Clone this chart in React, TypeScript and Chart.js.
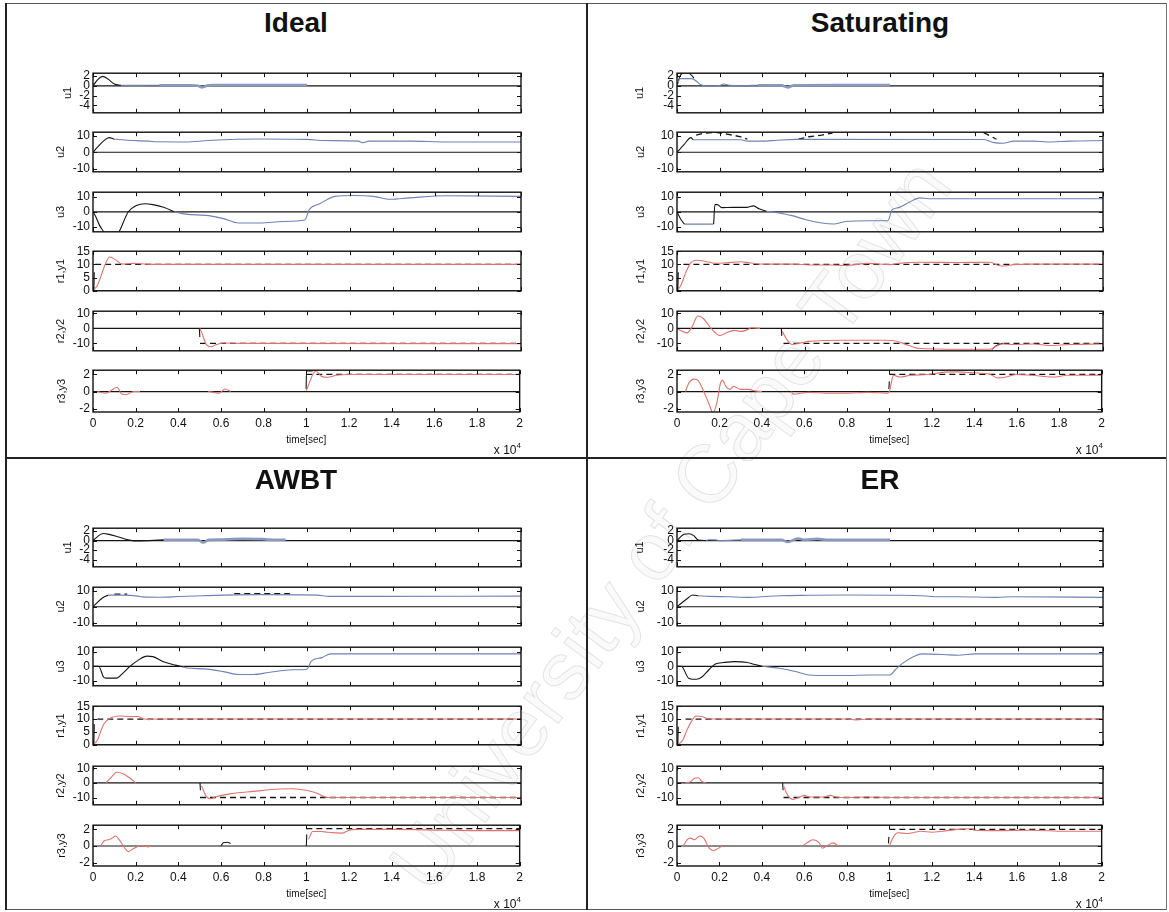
import React, { useEffect, useRef } from "react";
import { Chart, registerables } from "chart.js";

Chart.register(...registerables);

const FONT = '"Liberation Sans", Arial, Helvetica, sans-serif';
Chart.defaults.font.family = FONT;
Chart.defaults.color = "#111";

type Pt = [number, number | null];
type Kind = "k" | "b" | "band" | "r" | "ref";
type Trace = { data: Pt[]; kind: Kind };

// time axis, in units of 10^4 s
const TIME_TICKS = [0, 0.2, 0.4, 0.6, 0.8, 1, 1.2, 1.4, 1.6, 1.8, 2];
const ZERO_LINE: Pt[] = [[0, 0], [2, 0]];

const ROW_LABELS = ["u1", "u2", "u3", "r1,y1", "r2,y2", "r3,y3"];
const U1_TICKS = [-4, -2, 0, 2];
const U_TICKS = [-10, 0, 10];
const R1_TICKS = [0, 5, 10, 15];
const R2_TICKS = [-10, 0, 10];
const R3_TICKS = [-2, 0, 2];
const ROW_TICKS = [U1_TICKS, U_TICKS, U_TICKS, R1_TICKS, R2_TICKS, R3_TICKS];
const ROW_MIN = [-5.5, -12, -13.5, 0, -15, -2.4];
const ROW_MAX = [2.6, 12.3, 13.2, 15, 11.5, 2.5];

// ---------------- Ideal ----------------
const IDEAL_U1_K: Pt[] = [[0, 0], [0.02, 1.2], [0.045, 1.95], [0.07, 1.4], [0.1, 0.4], [0.13, 0.12]];
const IDEAL_U1_B: Pt[] = [[0.13, 0.12], [0.2, 0.1], [0.31, 0.15]];
const IDEAL_U1_BAND: Pt[] = [[0.31, 0.15], [0.46, 0.15], [0.49, 0.05], [0.51, -0.3], [0.535, 0.1], [0.56, 0.2], [0.75, 0.2], [1.0, 0.2]];
const IDEAL_U2_K: Pt[] = [[0, 0], [0.02, 3], [0.05, 7], [0.075, 9], [0.1, 8]];
const IDEAL_U2_B: Pt[] = [[0.1, 8], [0.15, 7.5], [0.26, 6.8], [0.3, 6.4], [0.435, 6.3], [0.54, 7.2], [0.78, 8.1], [1.0, 7.9], [1.08, 7.2], [1.24, 6.8], [1.26, 5.9], [1.29, 6.8], [1.48, 6.8], [1.65, 6.3], [2.0, 6.3]];
const IDEAL_U3_K: Pt[] = [[0, 0], [0.012, -3], [0.03, -9], [0.05, -13.5], [0.06, -16], [0.11, -16], [0.122, -13.5], [0.165, 0], [0.2, 4], [0.244, 5.4], [0.28, 4.8], [0.33, 3], [0.38, 0]];
const IDEAL_U3_B: Pt[] = [[0.38, 0], [0.435, -1.6], [0.54, -2.6], [0.61, -4.6], [0.68, -7.6], [0.78, -7.6], [0.89, -6.6], [0.99, -5.6], [1.01, 1.4], [1.06, 5.4], [1.13, 10.4], [1.22, 11], [1.31, 10.4], [1.39, 8.4], [1.48, 9.4], [1.65, 10.8], [2.0, 10.4]];
const IDEAL_R1_R: Pt[] = [[0, 0], [0.02, 2], [0.035, 5], [0.052, 9], [0.078, 12.8], [0.1, 12], [0.14, 10.1], [0.19, 10.4], [0.25, 10.1], [0.3, 10], [2, 10]];
const IDEAL_R1_REF: Pt[] = [[0.01, 10], [2, 10]];
const IDEAL_R1_K: Pt[] = [[0.004, 0], [0.006, 7]];
const IDEAL_R2_R: Pt[] = [[0.5, 0], [0.51, -3.7], [0.53, -10.9], [0.553, -12.3], [0.574, -10.9], [0.61, -9.8], [0.7, -10], [2, -10.2]];
const IDEAL_R2_REF: Pt[] = [[0.5, -10], [2, -10]];
const IDEAL_R2_K: Pt[] = [[0.497, 0], [0.499, -5.7]];
const IDEAL_R3_R: Pt[] = [[0.02, 0], [0.06, -0.2], [0.09, 0.2], [0.113, 0.5], [0.135, -0.3], [0.155, -0.37], [0.19, 0], [0.22, 0], [0.23, null], [0.54, 0], [0.566, -0.1], [0.59, -0.2], [0.62, 0.3], [0.645, 0], [0.66, null], [1.0, 0.1], [1.02, 1.4], [1.03, 2.0], [1.045, 2.4], [1.07, 1.8], [1.1, 1.67], [1.14, 1.9], [1.2, 2], [2, 2]];
const IDEAL_R3_REF: Pt[] = [[1, 2], [2, 2]];
const IDEAL_R3_K: Pt[] = [[0.999, 0.3], [1.001, 2.4], [1.03, 2.4]];

// ---------------- Saturating ----------------
const SAT_U1_B: Pt[] = [[0, 0], [0.014, 1.5], [0.07, 1.5], [0.09, 1], [0.11, 0.3], [0.14, 0], [0.2, 0.1], [0.22, 0.4], [0.25, 0.1], [0.3, 0.05], [0.38, 0.15]];
const SAT_U1_K: Pt[] = [[0, 0], [0.012, 1.8], [0.025, 2.6], [0.05, 2.8], [0.065, 2.3], [0.08, 1.6]];
const SAT_U1_BAND: Pt[] = [[0.38, 0.15], [0.49, 0.1], [0.52, -0.3], [0.55, 0.15], [0.75, 0.2], [1.0, 0.2]];
const SAT_U2_K: Pt[] = [[0, 0], [0.035, 5], [0.065, 9], [0.075, 7.7]];
const SAT_U2_B: Pt[] = [[0.075, 7.7], [0.3, 7.7], [0.33, 6.8], [0.4, 6.8], [0.47, 7.4], [0.56, 7.9], [1.44, 7.8], [1.49, 5.9], [1.53, 5.5], [1.58, 6.8], [1.67, 6.8], [1.74, 6.3], [1.84, 6.8], [2, 7.2]];
const SAT_U2_REF: Pt[] = [[0.09, 10.5], [0.12, 11.5], [0.18, 12.2], [0.22, 11.5], [0.26, 10.5], [0.3, 9.5], [0.33, 8], [0.34, null], [0.57, 8], [0.62, 9.5], [0.68, 10.5], [0.73, 11.8], [0.74, null], [1.44, 12], [1.47, 10], [1.5, 8]];
const SAT_U3_K: Pt[] = [[0, 0], [0.02, -5.6], [0.035, -8.3], [0.036, null], [0.172, -8.3], [0.178, 4.8], [0.19, 4.8], [0.21, 2.8], [0.26, 3], [0.33, 3], [0.36, 4], [0.385, 2], [0.42, 0.4]];
const SAT_U3_B: Pt[] = [[0.035, -8.3], [0.172, -8.3], [0.173, null], [0.42, 0.4], [0.47, -0.6], [0.54, -2.6], [0.61, -5.6], [0.68, -7.6], [0.735, -8.2], [0.79, -6.6], [0.9, -6], [0.99, -6], [1.01, 1.4], [1.04, 2.8], [1.09, 6.4], [1.14, 9.4], [1.18, 8.8], [2, 8.8]];
const SAT_R1_R: Pt[] = [[0, 0], [0.018, 2], [0.04, 6.7], [0.065, 10.7], [0.09, 11.6], [0.126, 11.3], [0.18, 10.4], [0.23, 10.6], [0.3, 11], [0.34, 10.6], [0.41, 10.1], [0.55, 10.1], [0.62, 9.8], [0.72, 9.8], [0.79, 9.6], [0.9, 10.4], [1.0, 9.9], [1.05, 10.5], [1.14, 10.8], [1.32, 10.7], [1.47, 10.8], [1.51, 9.6], [1.54, 9.4], [1.58, 9.9], [1.67, 10.1], [2, 10.1]];
const SAT_R1_REF: Pt[] = [[0.03, 10], [2, 10]];
const SAT_R1_K: Pt[] = [[0.004, 0], [0.006, 7]];
const SAT_R2_R: Pt[] = [[0, 0], [0.026, -2], [0.047, -3], [0.074, 2], [0.09, 7.3], [0.1, 8.3], [0.126, 6.3], [0.16, 0], [0.19, -4.2], [0.2, -4.8], [0.23, -3.1], [0.27, -1.3], [0.3, -2], [0.33, -1], [0.35, 0.4], [0.39, 0], [0.4, null], [0.494, -2], [0.52, -8.3], [0.54, -10.8], [0.573, -10], [0.616, -8.7], [0.79, -7.9], [0.97, -7.9], [1.02, -8.3], [1.09, -11.5], [1.14, -13.5], [1.32, -14], [1.47, -14], [1.5, -11.8], [1.53, -10.4], [1.58, -10.8], [1.67, -10.4], [1.75, -11.5], [1.84, -10.8], [2, -10.4]];
const SAT_R2_REF: Pt[] = [[0.5, -10], [2, -10]];
const SAT_R2_K: Pt[] = [[0.49, 0], [0.492, -5], [0.493, null], [1.48, -14], [1.5, -11.5], [1.53, -10]];
const SAT_R3_R: Pt[] = [[0.04, 0], [0.056, 1], [0.082, 1.45], [0.1, 1.27], [0.126, 0], [0.15, -1.4], [0.17, -2.5], [0.187, -1.4], [0.205, 1], [0.214, 1.35], [0.23, 0.6], [0.25, 0.25], [0.266, 0.6], [0.3, 0.25], [0.336, 0.25], [0.37, 0.07], [0.4, 0], [0.41, null], [0.54, 0], [0.546, -0.3], [0.62, -0.1], [0.7, -0.2], [0.79, -0.2], [0.9, -0.1], [0.99, -0.2], [1.0, 0], [1.02, 1.9], [1.05, 1.7], [1.1, 1.9], [1.18, 2], [1.25, 2.25], [1.32, 2.3], [1.4, 2.2], [1.47, 2.05], [1.51, 1.6], [1.55, 1.7], [1.6, 2], [1.67, 1.9], [1.77, 1.7], [1.84, 1.9], [2, 1.9]];
const SAT_R3_REF: Pt[] = [[1, 2], [2, 2]];
const SAT_R3_K: Pt[] = [[0.998, 0.3], [1.0, 1.2]];

// ---------------- AWBT ----------------
const AWBT_U1_K: Pt[] = [[0, 0], [0.035, 1.3], [0.05, 1.5], [0.075, 1.3], [0.12, 0.75], [0.17, 0.1], [0.21, -0.1], [0.26, 0], [0.33, 0.15]];
const AWBT_U1_BAND: Pt[] = [[0.33, 0.15], [0.49, 0.15], [0.515, -0.4], [0.54, 0.15], [0.6, 0.2], [0.65, 0.3], [0.7, 0.35], [0.79, 0.3], [0.82, 0.2], [0.9, 0.15]];
const AWBT_U2_K: Pt[] = [[0, 0], [0.044, 5.5], [0.07, 7.3]];
const AWBT_U2_B: Pt[] = [[0.07, 7.3], [0.14, 7.3], [0.21, 6.7], [0.23, 6.2], [0.31, 6], [0.4, 6.4], [0.51, 6.9], [0.61, 7.3], [0.79, 7.6], [1.05, 7.3], [1.1, 6.5], [1.3, 6.5], [2, 6.7]];
const AWBT_U2_REF: Pt[] = [[0.1, 8], [0.16, 8], [0.17, null], [0.66, 8.2], [0.92, 8.2]];
const AWBT_U3_K: Pt[] = [[0, 0], [0.026, 0], [0.05, -7.6], [0.06, -8.2], [0.11, -8.2], [0.14, -4.7], [0.17, -0.4], [0.21, 4.1], [0.253, 7], [0.28, 6.7], [0.33, 3.1], [0.385, 0.8], [0.42, -0.4]];
const AWBT_U3_B: Pt[] = [[0.42, -0.4], [0.44, -1.2], [0.52, -1.8], [0.61, -3.7], [0.68, -5.7], [0.75, -5.7], [0.82, -4.3], [0.93, -2.4], [1.0, -2], [1.02, 3.5], [1.07, 6], [1.11, 8.6], [2, 8.6]];
const AWBT_R1_R: Pt[] = [[0, 0], [0.02, 1.7], [0.05, 8], [0.087, 10.6], [0.122, 11.2], [0.175, 11], [0.21, 11], [0.236, 10.1], [0.26, 9.8], [0.3, 10], [2, 10]];
const AWBT_R1_REF: Pt[] = [[0.02, 10], [2, 10]];
const AWBT_R1_K: Pt[] = [[0.004, 0], [0.006, 8]];
const AWBT_R2_R: Pt[] = [[0.06, 0], [0.087, 4.2], [0.11, 7.3], [0.14, 6.3], [0.175, 3.1], [0.2, 0], [0.21, null], [0.507, -2], [0.53, -9.4], [0.55, -10.8], [0.576, -9.4], [0.646, -7.3], [0.75, -5.8], [0.87, -4.2], [0.93, -4], [1.0, -5.2], [1.05, -7.3], [1.08, -9.4], [1.1, -10], [2, -10]];
const AWBT_R2_REF: Pt[] = [[0.5, -10], [2, -10]];
const AWBT_R2_K: Pt[] = [[0.5, 0], [0.502, -5]];
const AWBT_R3_R: Pt[] = [[0.035, 0], [0.052, 0.6], [0.07, 0.75], [0.087, 0.9], [0.105, 1.2], [0.122, 0.8], [0.15, -0.3], [0.166, -0.67], [0.19, -0.3], [0.227, 0.07], [0.26, -0.1], [0.27, 0], [0.28, null], [1.01, 0.8], [1.03, 1.75], [1.07, 1.75], [1.1, 1.65], [1.17, 1.55], [1.2, 1.9], [1.24, 2], [1.4, 2], [1.66, 1.9], [1.83, 1.85], [2, 1.85]];
const AWBT_R3_REF: Pt[] = [[1.0, 2.1], [2, 2.1]];
const AWBT_R3_K: Pt[] = [[0.6, 0], [0.61, 0.4], [0.63, 0.45], [0.645, 0.3], [0.65, null], [1.0, 0], [1.002, 1.4]];

// ---------------- ER ----------------
const ER_U1_K: Pt[] = [[0, 0], [0.033, 1.35], [0.056, 1.45], [0.08, 1], [0.1, 0.1], [0.135, 0]];
const ER_U1_B: Pt[] = [[0.135, 0], [0.15, 0.18], [0.18, 0.15], [0.2, 0], [0.3, 0.15]];
const ER_U1_BAND: Pt[] = [[0.3, 0.15], [0.49, 0.15], [0.52, -0.3], [0.545, 0.1], [0.57, 0.45], [0.6, 0.15], [0.66, 0.35], [0.7, 0.15], [1.0, 0.15]];
const ER_U2_K: Pt[] = [[0, 0], [0.047, 5], [0.073, 7.4], [0.1, 6.9]];
const ER_U2_B: Pt[] = [[0.1, 6.9], [0.15, 6.5], [0.24, 6.3], [0.33, 5.9], [0.4, 6.3], [0.48, 6.9], [0.62, 7.2], [0.8, 7.4], [1.06, 7.2], [1.15, 6.9], [1.23, 6.3], [1.32, 6.3], [1.5, 5.9], [1.58, 6.3], [2, 5.9]];
const ER_U3_K: Pt[] = [[0, 0], [0.02, 0], [0.056, -8.4], [0.09, -9], [0.117, -7.4], [0.15, -2.4], [0.18, 1.6], [0.22, 2.6], [0.27, 3.2], [0.33, 2.6], [0.36, 1.4], [0.4, 0]];
const ER_U3_B: Pt[] = [[0.4, 0], [0.48, -1.4], [0.55, -3.4], [0.62, -6], [0.71, -6.4], [0.8, -6.4], [0.9, -6], [1.0, -6], [1.025, -2.4], [1.06, 2.2], [1.11, 6.6], [1.15, 8.6], [1.25, 8.2], [1.32, 7.6], [1.4, 8.6], [2, 8.6]];
const ER_R1_R: Pt[] = [[0, 0], [0.026, 1.7], [0.047, 5.8], [0.073, 9.8], [0.09, 11.2], [0.117, 11], [0.143, 10.1], [0.2, 10], [0.8, 10], [0.84, 9.7], [0.9, 10], [2, 10]];
const ER_R1_REF: Pt[] = [[0.04, 10], [2, 10]];
const ER_R1_K: Pt[] = [[0.004, 0], [0.006, 7]];
const ER_R2_R: Pt[] = [[0.038, 0], [0.066, 1], [0.082, 3.2], [0.1, 3.6], [0.117, 1], [0.135, 0], [0.14, null], [0.5, -2.1], [0.52, -8.5], [0.545, -11.3], [0.57, -10], [0.6, -8.5], [0.62, -9.6], [0.69, -9.6], [0.72, -8.5], [0.745, -9.6], [0.8, -10], [0.9, -9.6], [1.0, -10], [2, -10]];
const ER_R2_REF: Pt[] = [[0.5, -10], [2, -10]];
const ER_R2_K: Pt[] = [[0.496, 0], [0.498, -5]];
const ER_R3_R: Pt[] = [[0.03, 0], [0.047, 0.75], [0.065, 0.95], [0.082, 0.75], [0.108, 1.2], [0.126, 0.95], [0.15, -0.2], [0.17, -0.57], [0.187, -0.38], [0.213, 0], [0.22, null], [0.59, 0], [0.624, 0.57], [0.64, 0.75], [0.67, 0.38], [0.685, -0.26], [0.71, 0.1], [0.735, 0.38], [0.76, 0], [0.77, null], [1.0, 0], [1.02, 1.13], [1.04, 1.6], [1.08, 1.5], [1.11, 1.6], [1.15, 1.77], [1.2, 1.66], [1.25, 1.77], [1.32, 2], [1.39, 2.07], [1.4, 1.9], [1.5, 1.85], [1.67, 1.9], [1.83, 1.77], [2, 1.77]];
const ER_R3_REF: Pt[] = [[1, 2], [2, 2]];
const ER_R3_K: Pt[] = [[0.996, 0.3], [0.998, 1.1]];

const T = (data: Pt[], kind: Kind): Trace => ({ data, kind });

const PANELS = [
  {
    title: "Ideal", col: 0, half: 0,
    rows: [
      [T(IDEAL_U1_K, "k"), T(IDEAL_U1_B, "b"), T(IDEAL_U1_BAND, "band")],
      [T(IDEAL_U2_K, "k"), T(IDEAL_U2_B, "b")],
      [T(IDEAL_U3_K, "k"), T(IDEAL_U3_B, "b")],
      [T(IDEAL_R1_R, "r"), T(IDEAL_R1_K, "k"), T(IDEAL_R1_REF, "ref")],
      [T(IDEAL_R2_R, "r"), T(IDEAL_R2_K, "k"), T(IDEAL_R2_REF, "ref")],
      [T(IDEAL_R3_R, "r"), T(IDEAL_R3_K, "k"), T(IDEAL_R3_REF, "ref")],
    ],
  },
  {
    title: "Saturating", col: 1, half: 0,
    rows: [
      [T(SAT_U1_B, "b"), T(SAT_U1_K, "k"), T(SAT_U1_BAND, "band")],
      [T(SAT_U2_K, "k"), T(SAT_U2_B, "b"), T(SAT_U2_REF, "ref")],
      [T(SAT_U3_K, "k"), T(SAT_U3_B, "b")],
      [T(SAT_R1_R, "r"), T(SAT_R1_K, "k"), T(SAT_R1_REF, "ref")],
      [T(SAT_R2_R, "r"), T(SAT_R2_K, "k"), T(SAT_R2_REF, "ref")],
      [T(SAT_R3_R, "r"), T(SAT_R3_K, "k"), T(SAT_R3_REF, "ref")],
    ],
  },
  {
    title: "AWBT", col: 0, half: 1,
    rows: [
      [T(AWBT_U1_K, "k"), T(AWBT_U1_BAND, "band")],
      [T(AWBT_U2_K, "k"), T(AWBT_U2_B, "b"), T(AWBT_U2_REF, "ref")],
      [T(AWBT_U3_K, "k"), T(AWBT_U3_B, "b")],
      [T(AWBT_R1_R, "r"), T(AWBT_R1_K, "k"), T(AWBT_R1_REF, "ref")],
      [T(AWBT_R2_R, "r"), T(AWBT_R2_K, "k"), T(AWBT_R2_REF, "ref")],
      [T(AWBT_R3_R, "r"), T(AWBT_R3_K, "k"), T(AWBT_R3_REF, "ref")],
    ],
  },
  {
    title: "ER", col: 1, half: 1,
    rows: [
      [T(ER_U1_K, "k"), T(ER_U1_B, "b"), T(ER_U1_BAND, "band")],
      [T(ER_U2_K, "k"), T(ER_U2_B, "b")],
      [T(ER_U3_K, "k"), T(ER_U3_B, "b")],
      [T(ER_R1_R, "r"), T(ER_R1_K, "k"), T(ER_R1_REF, "ref")],
      [T(ER_R2_R, "r"), T(ER_R2_K, "k"), T(ER_R2_REF, "ref")],
      [T(ER_R3_R, "r"), T(ER_R3_K, "k"), T(ER_R3_REF, "ref")],
    ],
  },
];

// layout
const COL_LEFT = [93, 677];
const COL_WIDTH = [428, 426];
const COL_CENTER = [296, 880];
const HALF_TOP = [71, 526];
const HALF_TITLE_TOP = [9, 466];
const ROW_STEP = 59.4;
const ROW_H = [44, 43];
const LABEL_OFFSET = [[25, 32, 32, 32, 32, 31], [37, 36, 36, 36, 36, 36]];

const STYLE: Record<Kind, { color: string; width: number; dash: number[]; smooth: boolean }> = {
  k: { color: "#141414", width: 1.1, dash: [], smooth: true },
  b: { color: "#6c83b3", width: 1.1, dash: [], smooth: true },
  band: { color: "#8a99bd", width: 2.6, dash: [], smooth: true },
  r: { color: "#e0736e", width: 1.1, dash: [], smooth: true },
  ref: { color: "#141414", width: 1.3, dash: [6, 4], smooth: false },
};

// box around the axes plus inward tick marks on all four sides
const boxPlugin = {
  id: "axesBox",
  afterDatasetsDraw(chart: any) {
    const { ctx, chartArea: a, scales } = chart;
    ctx.save();
    ctx.strokeStyle = "#111";
    ctx.lineWidth = 1.4;
    ctx.strokeRect(a.left, a.top, a.right - a.left, a.bottom - a.top);
    ctx.lineWidth = 1;
    ctx.beginPath();
    for (const v of TIME_TICKS) {
      const px = Math.round(scales.x.getPixelForValue(v)) + 0.5;
      ctx.moveTo(px, a.top);
      ctx.lineTo(px, a.top + 4);
      ctx.moveTo(px, a.bottom);
      ctx.lineTo(px, a.bottom - 4);
    }
    for (const t of scales.y.ticks) {
      const py = Math.round(scales.y.getPixelForValue(t.value)) + 0.5;
      ctx.moveTo(a.left, py);
      ctx.lineTo(a.left + 4, py);
      ctx.moveTo(a.right, py);
      ctx.lineTo(a.right - 4, py);
    }
    ctx.stroke();
    ctx.restore();
  },
};

type SubplotProps = {
  traces: Trace[];
  row: number;
  left: number;
  top: number;
  width: number;
  height: number;
  labelOff: number;
  bottom: boolean;
};

function Subplot({ traces, row, left, top, width, height, labelOff, bottom }: SubplotProps) {
  const ref = useRef<HTMLCanvasElement>(null);
  const yW = labelOff + 7;
  const padT = 8;
  const padR = 6;
  const padB = 8;
  const xH = 34;
  const cw = yW + width + padR;
  const ch = padT + height + (bottom ? xH : padB);

  useEffect(() => {
    if (!ref.current) return;
    const datasets: any[] = traces.map((t) => {
      const s = STYLE[t.kind];
      return {
        data: t.data,
        borderColor: s.color,
        borderWidth: s.width,
        borderDash: s.dash,
        pointRadius: 0,
        fill: false,
        cubicInterpolationMode: s.smooth ? "monotone" : "default",
        tension: 0,
      };
    });
    datasets.push({
      data: ZERO_LINE,
      borderColor: "#141414",
      borderWidth: 1.2,
      pointRadius: 0,
      fill: false,
    });
    const ticks = ROW_TICKS[row];
    const chart = new Chart(ref.current, {
      type: "line",
      data: { datasets },
      options: {
        responsive: false,
        maintainAspectRatio: false,
        animation: false,
        devicePixelRatio: 1,
        events: [],
        layout: { padding: { left: 0, top: padT, right: padR, bottom: bottom ? 0 : padB } },
        plugins: { legend: { display: false }, tooltip: { enabled: false } },
        scales: {
          x: {
            type: "linear",
            min: 0,
            max: 2,
            display: bottom,
            afterFit: (s: any) => {
              s.height = bottom ? xH : 0;
            },
            afterBuildTicks: (s: any) => {
              s.ticks = TIME_TICKS.map((v) => ({ value: v }));
            },
            grid: { display: false, drawTicks: false },
            border: { display: false },
            ticks: {
              padding: 4,
              maxRotation: 0,
              autoSkip: false,
              color: "#111",
              font: { size: 12 },
              callback: (v: any) => String(Math.round(Number(v) * 10) / 10),
            },
            title: {
              display: true,
              text: "time[sec]",
              color: "#111",
              font: { size: 10 },
              padding: { top: 0, bottom: 0 },
            },
          },
          y: {
            type: "linear",
            min: ROW_MIN[row],
            max: ROW_MAX[row],
            afterFit: (s: any) => {
              s.width = yW;
            },
            afterBuildTicks: (s: any) => {
              s.ticks = ticks.map((v) => ({ value: v }));
            },
            grid: { display: false, drawTicks: false },
            border: { display: false },
            ticks: { padding: 3, autoSkip: false, color: "#111", font: { size: 12 } },
            title: {
              display: true,
              text: ROW_LABELS[row],
              color: "#111",
              font: { size: 11 },
              padding: 0,
            },
          },
        },
      } as any,
      plugins: [boxPlugin],
    });
    return () => chart.destroy();
  }, []);

  return (
    <canvas
      ref={ref}
      width={cw}
      height={ch}
      style={{ position: "absolute", left: left - yW, top: top - padT, width: cw, height: ch }}
    />
  );
}

function Panel({ p }: { p: (typeof PANELS)[number] }) {
  const left = COL_LEFT[p.col];
  const width = COL_WIDTH[p.col];
  const h = ROW_H[p.half];
  const lastTop = Math.round(HALF_TOP[p.half] + 5 * ROW_STEP);
  return (
    <>
      <div
        style={{
          position: "absolute",
          left: COL_CENTER[p.col] - 150,
          width: 300,
          top: HALF_TITLE_TOP[p.half],
          textAlign: "center",
          fontFamily: FONT,
          fontWeight: "bold",
          fontSize: 28,
          lineHeight: "28px",
          color: "#111",
        }}
      >
        {p.title}
      </div>
      {p.rows.map((traces, i) => (
        <Subplot
          key={i}
          traces={traces}
          row={i}
          left={left}
          top={Math.round(HALF_TOP[p.half] + i * ROW_STEP)}
          width={width}
          height={h}
          labelOff={LABEL_OFFSET[p.col][i]}
          bottom={i === 5}
        />
      ))}
      <div
        style={{
          position: "absolute",
          left: left + width - 60,
          width: 60,
          top: lastTop + h + 31,
          textAlign: "right",
          fontFamily: FONT,
          fontSize: 12,
          lineHeight: "14px",
          color: "#111",
        }}
      >
        x 10<span style={{ fontSize: 8, position: "relative", top: -6 }}>4</span>
      </div>
    </>
  );
}

const line = (s: React.CSSProperties): React.CSSProperties => ({ position: "absolute", ...s });

export default function App() {
  return (
    <div
      style={{
        position: "absolute",
        left: 0,
        top: 0,
        width: 1169,
        height: 912,
        overflow: "hidden",
        background: "#fff",
        fontFamily: FONT,
      }}
    >
      <div
        style={{
          position: "absolute",
          left: 670,
          top: 525,
          transform: "translate(-50%, -50%) rotate(-53.6deg)",
          fontFamily: FONT,
          fontSize: 82,
          lineHeight: 1,
          whiteSpace: "nowrap",
          color: "rgba(0,0,0,0.02)",
          WebkitTextStroke: "1px rgba(0,0,0,0.11)",
        }}
      >
        University of Cape Town
      </div>
      <div style={line({ left: 5, top: 3, width: 1162, borderTop: "1px solid #555" })} />
      <div style={line({ left: 5, top: 909, width: 1162, borderTop: "1px solid #555" })} />
      <div style={line({ left: 5, top: 457, width: 1162, borderTop: "2px solid #222" })} />
      <div style={line({ left: 5, top: 3, height: 907, borderLeft: "2px solid #222" })} />
      <div style={line({ left: 586, top: 3, height: 907, borderLeft: "2px solid #222" })} />
      <div style={line({ left: 1166, top: 3, height: 907, borderLeft: "1px solid #777" })} />
      {PANELS.map((p) => (
        <Panel key={p.title} p={p} />
      ))}
    </div>
  );
}
